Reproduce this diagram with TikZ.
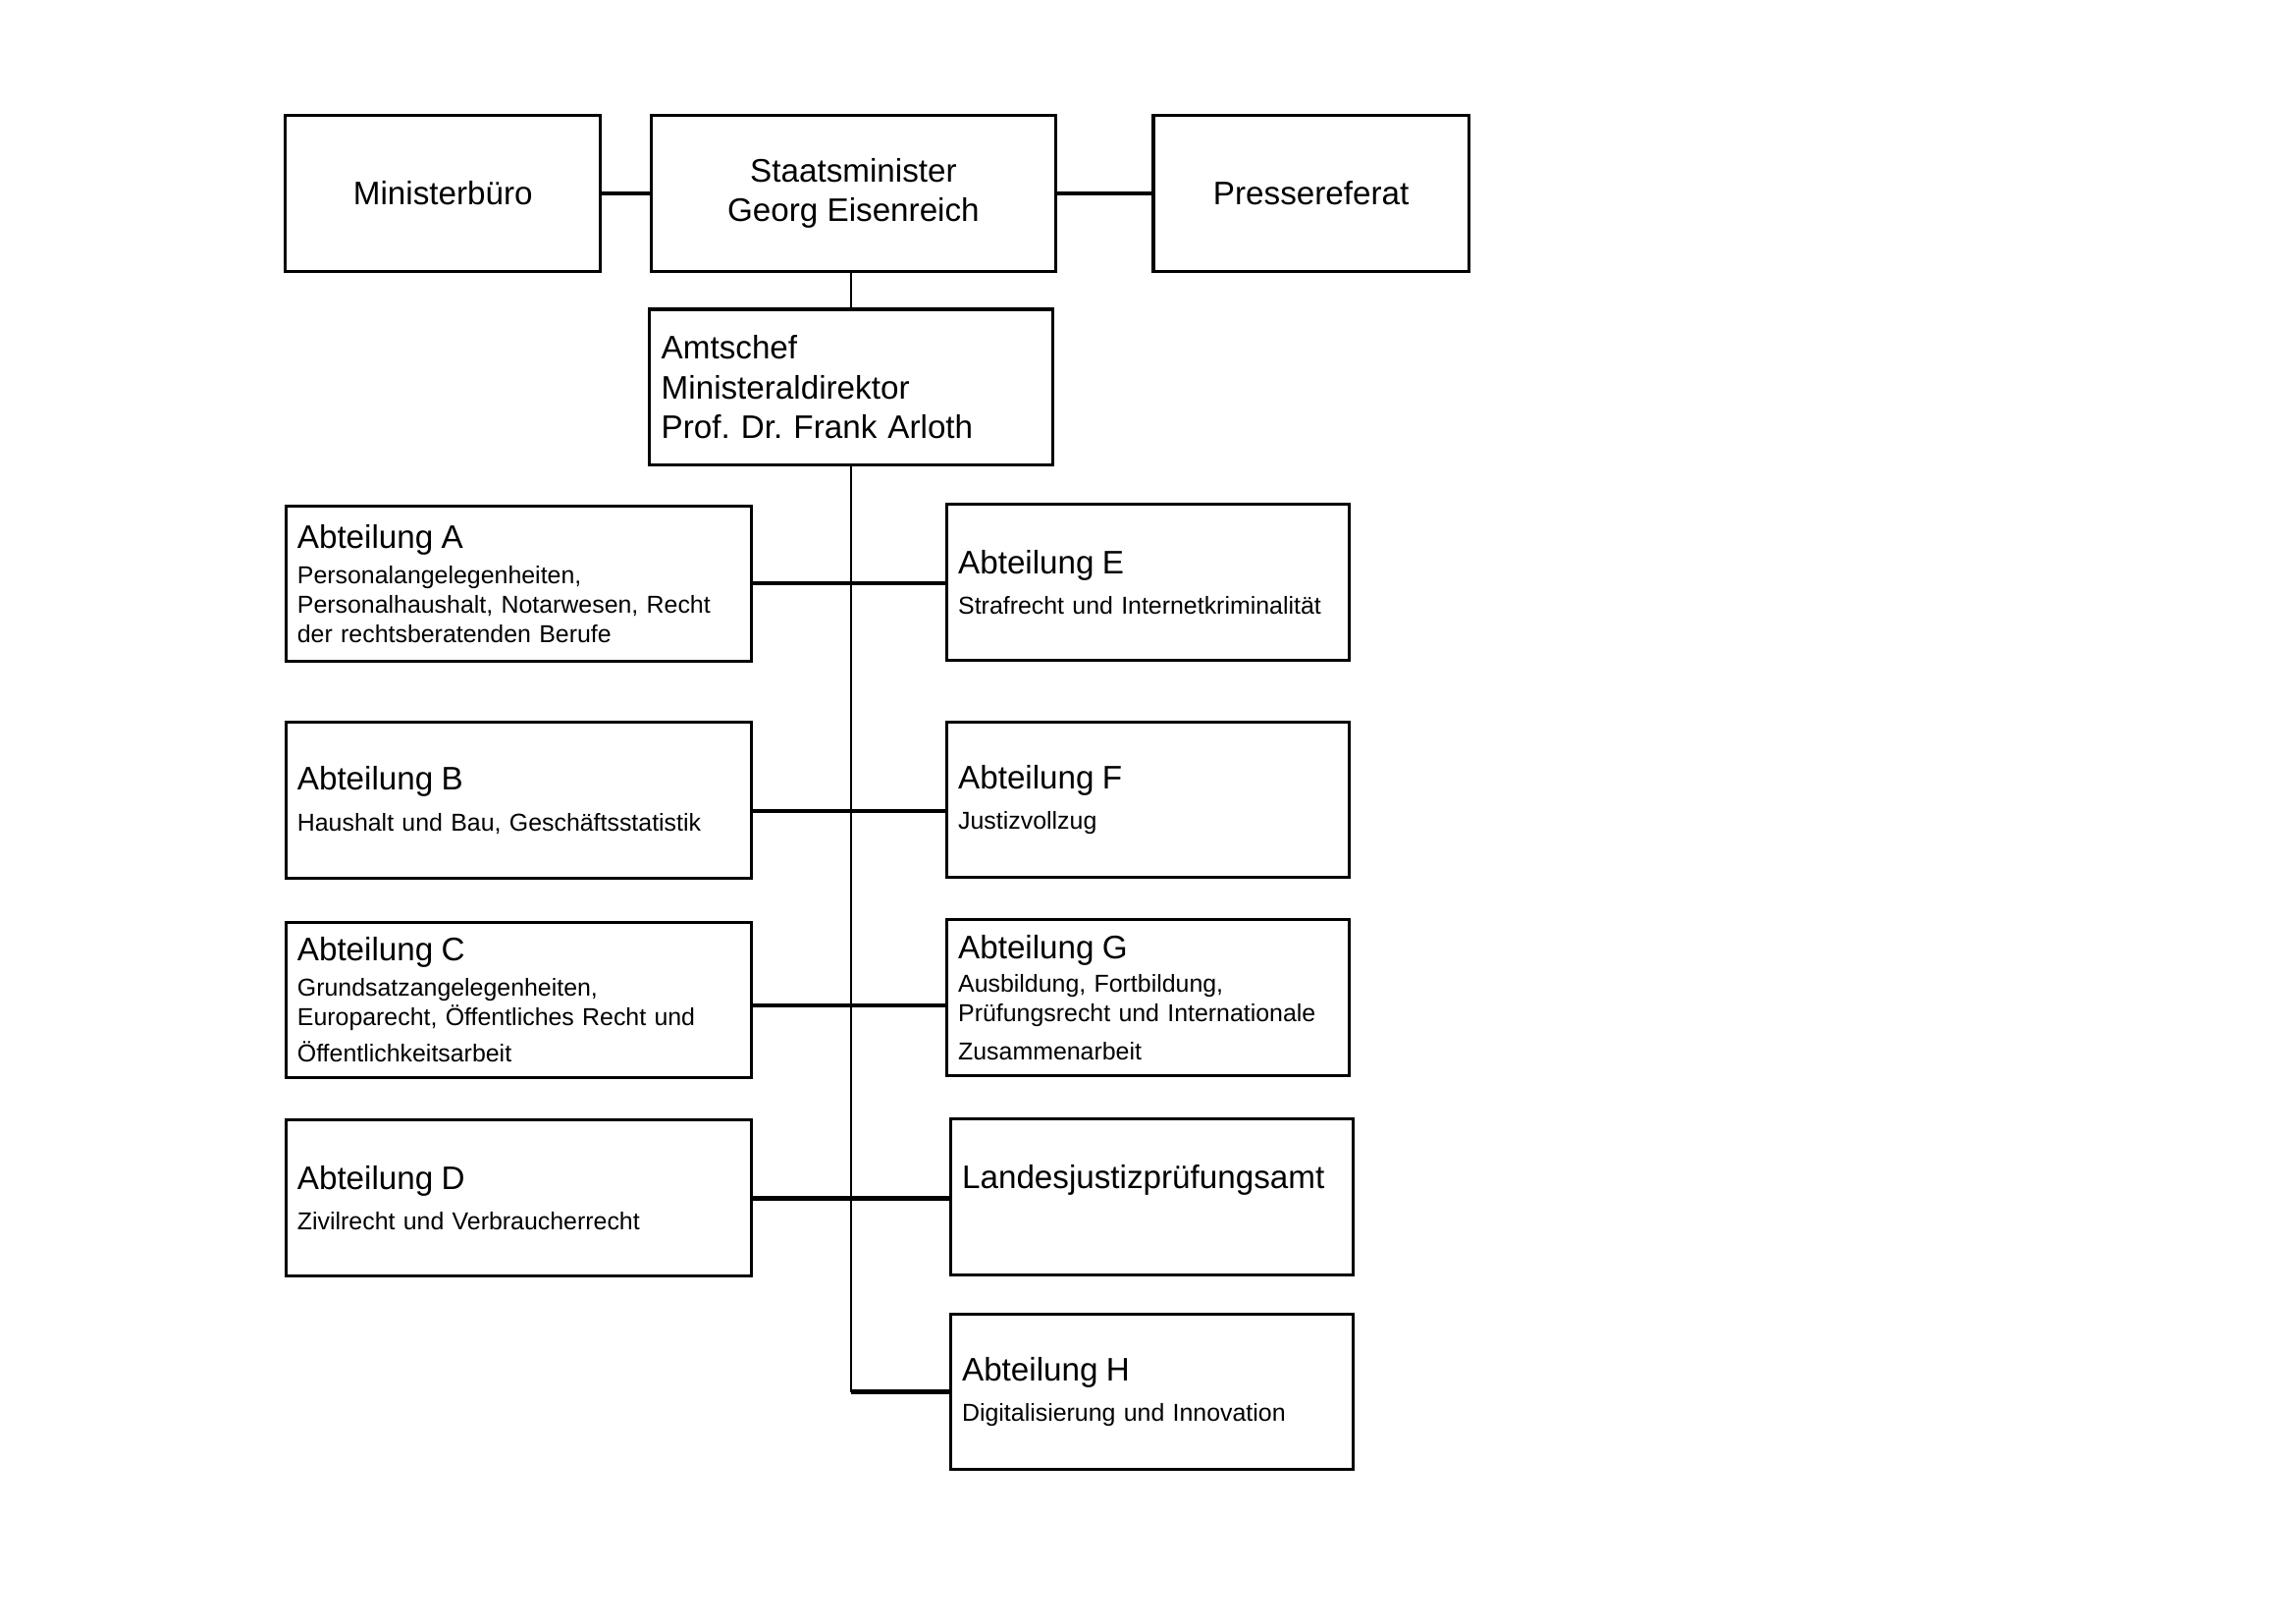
\documentclass[tikz,border=0pt]{standalone}
\usepackage{fontspec}
\setmainfont{Liberation Sans}
\frenchspacing

\newcommand{\hd}{\fontsize{12}{14.5}\selectfont}

\begin{document}
\begin{tikzpicture}[x=1mm, y=-1mm,
        box/.style={draw, line width=1.1pt, minimum height=20.1mm, inner ysep=0pt, inner xsep=1.5mm},
        topbox/.style={box, align=center, font=\hd},
        abtl/.style={box, minimum width=60.2mm, text width=57.2mm, align=left, font=\fontsize{9}{10.75}\selectfont},
        abtr/.style={box, minimum width=52.1mm, text width=49.1mm, align=left, font=\fontsize{9}{10.75}\selectfont},
        link/.style={line width=1.6pt},
        trunk/.style={line width=0.8pt}]
        \useasboundingbox (0,0) rectangle (297,210);

        \node[topbox, minimum width=40.8mm] (buero) at (57.3,25) {Ministerbüro};
        \node[topbox, minimum width=52.3mm] (minister) at (110.4,25) {Staatsminister\\Georg Eisenreich};
        \node[topbox, minimum width=40.8mm] (presse) at (169.6,25) {Pressereferat};
        \node[abtr, font=\hd] (amtschef) at (110.1,50.05) {Amtschef\\Ministeraldirektor\\Prof. Dr. Frank Arloth};

        \node[abtl] (abtA) at (67.06,75.5) {{\hd Abteilung A}\\[2.15pt]Personalangelegenheiten,\\Personalhaushalt, Notarwesen, Recht\\der rechtsberatenden Berufe};
        \node[abtl] (abtB) at (67.06,103.5) {{\hd Abteilung B}\\[4.25pt]Haushalt und Bau, Geschäftsstatistik};
        \node[abtl] (abtC) at (67.06,129.3) {{\hd Abteilung C}\\[2.15pt]Grundsatzangelegenheiten,\\Europarecht, Öffentliches Recht und\\[2.65pt]Öffentlichkeitsarbeit};
        \node[abtl] (abtD) at (67.06,154.9) {{\hd Abteilung D}\\[4.25pt]Zivilrecht und Verbraucherrecht};

        \node[abtr] (abtE) at (148.5,75.3) {{\hd Abteilung E}\\[4.25pt]Strafrecht und Internetkriminalität};
        \node[abtr] (abtF) at (148.5,103.4) {{\hd Abteilung F}\\[4.25pt]Justizvollzug};
        \node[abtr] (abtG) at (148.5,129.0) {{\hd Abteilung G}\\[1.65pt]Ausbildung, Fortbildung,\\Prüfungsrecht und Internationale\\[3.25pt]Zusammenarbeit};
        \node[abtr] (ljpa) at (149.0,154.8) {{\hd Landesjustizprüfungsamt}\\[1.25pt]\strut};
        \node[abtr] (abtH) at (149.0,180.0) {{\hd Abteilung H}\\[4.25pt]Digitalisierung und Innovation};

        \draw[link] (buero.east) -- (minister.west);
        \draw[link] (minister.east) -- (presse.west);
        \draw[trunk] (amtschef.north) -- (amtschef.north |- minister.south);
        \draw[trunk] (amtschef.south) -- (amtschef.south |- abtH.west);
        \draw[link] (amtschef.south |- abtH.west) -- (abtH.west);
        \foreach \l/\r/\y in {abtA/abtE/75.4, abtB/abtF/104.9, abtC/abtG/130.0, abtD/ljpa/155.0} {
            \draw[link] (\l.east |- 0,\y) -- (\r.west |- 0,\y);
        }
    \end{tikzpicture}
\end{document}
